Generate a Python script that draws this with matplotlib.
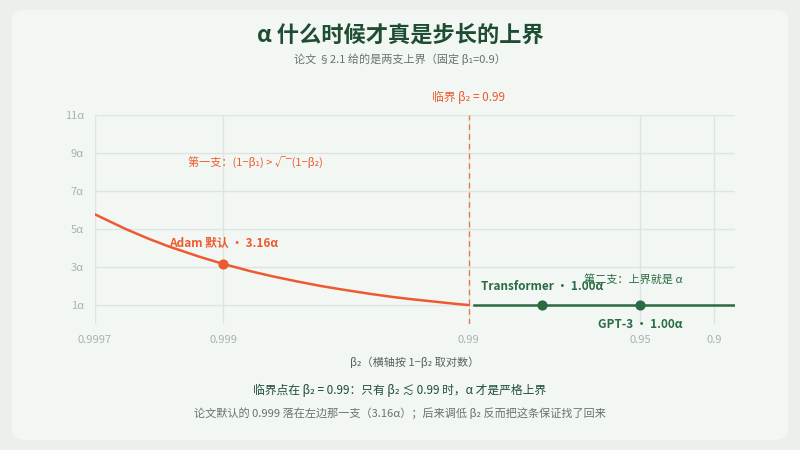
import matplotlib
matplotlib.use("Agg")
import matplotlib.pyplot as plt
from matplotlib.patches import FancyBboxPatch
import numpy as np

plt.rcParams['font.family'] = ['Noto Sans CJK SC', 'DejaVu Sans']

# data: 1-beta2 values and bound (in units of alpha)
left_x = [0.0003, 0.0004, 0.0005, 0.0006, 0.0008, 0.001, 0.0013, 0.0016, 0.002, 0.0025, 0.003, 0.004, 0.005, 0.006, 0.007, 0.008, 0.009, 0.01]
left_y = [5.77, 5.00, 4.47, 4.08, 3.54, 3.16, 2.77, 2.50, 2.24, 2.00, 1.83, 1.58, 1.41, 1.29, 1.20, 1.12, 1.05, 1.00]
right_x = [0.0105, 0.122]
right_y = [1.0, 1.0]
pts_names = ["Adam 默认 · 3.16α", "Transformer · 1.00α", "GPT-3 · 1.00α"]
pts_x = [0.001, 0.02, 0.05]
pts_y = [3.16, 1.0, 1.0]
xtick_vals = [0.0003, 0.001, 0.01, 0.05, 0.1]
xtick_labels = ["0.9997", "0.999", "0.99", "0.95", "0.9"]
ytick_vals = [1, 3, 5, 7, 9, 11]
ytick_labels = ["1α", "3α", "5α", "7α", "9α", "11α"]

ORANGE = "#ee5a2f"
GREEN = "#2a6b42"
DARK = "#1f4d33"
GREY = "#a9b3ad"

fig = plt.figure(figsize=(8, 4.5), dpi=100)
fig.patch.set_facecolor("#ebf0ec")
card = FancyBboxPatch((0.015, 0.022), 0.97, 0.956, boxstyle="round,pad=0,rounding_size=0.02",
                      transform=fig.transFigure, facecolor="#f3f7f4", edgecolor="none", zorder=-10)
fig.patches.append(card)

ax = fig.add_axes([95/800, 1-324/450, 640/800, 209/450])
ax.set_zorder(5)
ax.set_facecolor("#f3f7f4")
ax.set_xscale("log")
ax.set_xlim(0.0003, 0.122)
ax.set_ylim(0, 11)
ax.set_xticks(xtick_vals)
ax.set_xticklabels(xtick_labels)
ax.xaxis.set_minor_locator(matplotlib.ticker.NullLocator())
ax.set_yticks(ytick_vals)
ax.set_yticklabels(ytick_labels)
ax.tick_params(length=0, colors=GREY, labelsize=8, pad=8)
ax.grid(True, color="#dde5e0", lw=1)
for s in ax.spines.values():
    s.set_visible(False)
ax.axvline(0.0003, color="#dde5e0", lw=1.5)

ax.plot(left_x, left_y, color=ORANGE, lw=1.8, zorder=3)
ax.plot(right_x, right_y, color=GREEN, lw=1.8, zorder=3)
ax.axvline(0.01, color=ORANGE, lw=1, ls=(0, (4, 3)), alpha=0.8, zorder=2)

ax.scatter(pts_x[0], pts_y[0], s=40, color=ORANGE, zorder=4)
ax.scatter(pts_x[1:], pts_y[1:], s=40, color=GREEN, zorder=4)
ax.annotate(pts_names[0], (pts_x[0], pts_y[0]), xytext=(0, 10), textcoords="offset points",
            ha="center", va="bottom", color=ORANGE, fontsize=8.5, fontweight="bold")
ax.annotate(pts_names[1], (pts_x[1], pts_y[1]), xytext=(0, 9), textcoords="offset points",
            ha="center", va="bottom", color=GREEN, fontsize=8.5, fontweight="bold")
ax.annotate(pts_names[2], (pts_x[2], pts_y[2]), xytext=(0, -9), textcoords="offset points",
            ha="center", va="top", color=GREEN, fontsize=8.5, fontweight="bold")

ax.text(0.00135, 8.5, "第一支：(1−β₁) > √‾(1−β₂)", color=ORANGE, fontsize=8, ha="center", va="center")
ax.text(0.047, 2.35, "第二支：上界就是 α", color=GREEN, fontsize=8, ha="center", va="center")
ax.text(0.01, 11.6, "临界 β₂ = 0.99", color=ORANGE, fontsize=8.5, ha="center", va="bottom")
ax.set_xlabel("β₂（横轴按 1−β₂ 取对数）", color="#55655b", fontsize=8, labelpad=8)

fig.text(0.5, 0.922, "α 什么时候才真是步长的上界", ha="center", va="center", color=DARK,
         fontsize=16, fontweight="bold")
fig.text(0.5, 0.868, "论文 §2.1 给的是两支上界（固定 β₁=0.9）", ha="center", va="center",
         color="#66746b", fontsize=8)
fig.text(0.5, 0.133, "临界点在 β₂ = 0.99：只有 β₂ ≲ 0.99 时，α 才是严格上界", ha="center",
         va="center", color=DARK, fontsize=8.5)
fig.text(0.5, 0.082, "论文默认的 0.999 落在左边那一支（3.16α）；后来调低 β₂ 反而把这条保证找了回来",
         ha="center", va="center", color="#66746b", fontsize=8)

fig.savefig("out.png", dpi=100, facecolor=fig.get_facecolor())
